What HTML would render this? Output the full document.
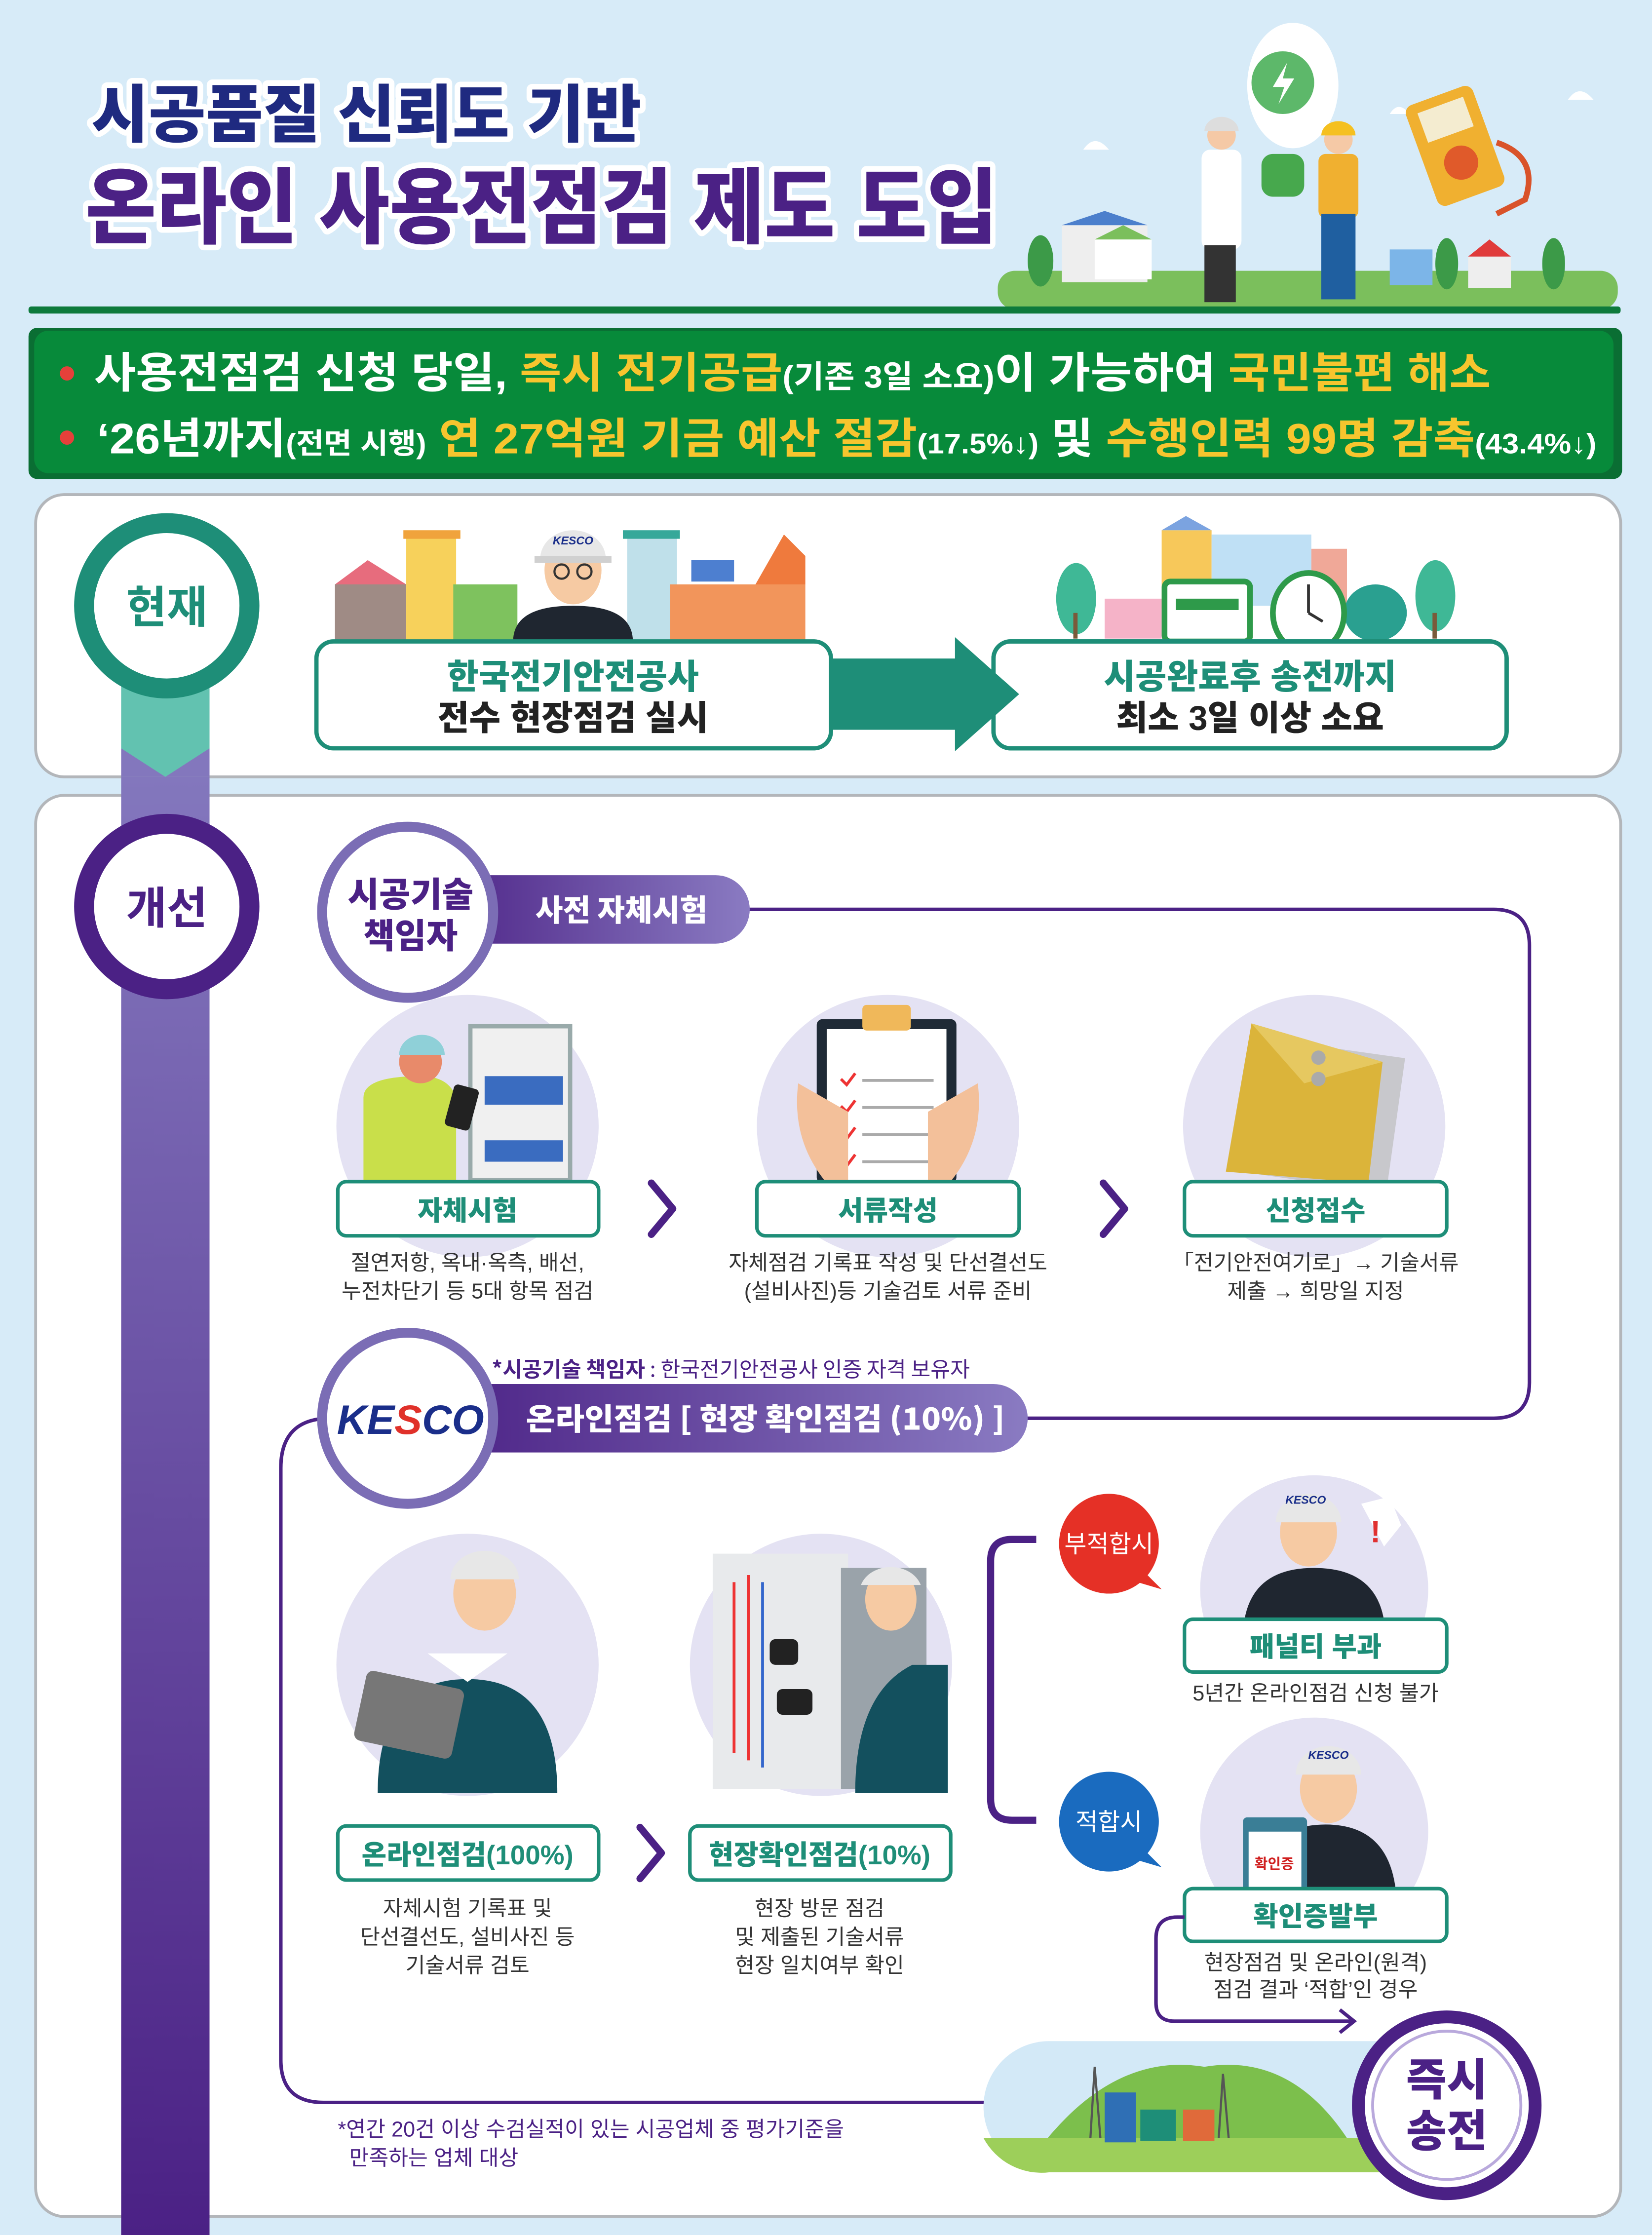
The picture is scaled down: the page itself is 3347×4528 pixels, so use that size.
<!DOCTYPE html>
<html><head><meta charset="utf-8"><style>
html,body{margin:0;padding:0;background:#d7ebf8;}
svg{display:block;}
text{font-family:"Liberation Sans","Noto Sans CJK KR",sans-serif;}
.k{font-family:"Noto Sans CJK KR","Liberation Sans",sans-serif;}
</style></head><body>
<svg width="3347" height="4528" viewBox="0 0 1159 1568" preserveAspectRatio="none" xmlns="http://www.w3.org/2000/svg">
<defs>
<linearGradient id="pill" x1="0" x2="1"><stop offset="0" stop-color="#4b2185"/><stop offset="1" stop-color="#8a7bc2"/></linearGradient>
<linearGradient id="bar" x1="0" x2="0" y1="0" y2="1"><stop offset="0" stop-color="#8377bd"/><stop offset="1" stop-color="#4b2185"/></linearGradient>
<clipPath id="c1"><rect x="800" y="1000" width="250" height="150"/></clipPath>
<clipPath id="c2"><rect x="800" y="1190" width="250" height="145"/></clipPath>
</defs>
<rect width="1159" height="1568" fill="#d7ebf8"/>

<g class="k" font-weight="900" stroke="#fff" stroke-width="8" stroke-linejoin="round" paint-order="stroke">
<text x="64" y="96" font-size="44" fill="#1f2a80" textLength="386" lengthAdjust="spacingAndGlyphs">시공품질 신뢰도 기반</text>
<text x="60" y="166" font-size="58" fill="#4b2185" textLength="640" lengthAdjust="spacingAndGlyphs">온라인 사용전점검 제도 도입</text>
</g>

<ellipse cx="907" cy="60" rx="32" ry="44" fill="#fff"/>
<circle cx="900" cy="58" r="22" fill="#5db86a"/>
<path d="M903 44 L893 61 L901 61 L897 73 L908 55 L900 55 Z" fill="#fff"/>
<path d="M760 105 q8-12 18 0 z M975 80 q6-10 14 0z M1100 70 q8-12 18 0z" fill="#fff"/>
<rect x="700" y="190" width="435" height="27" rx="12" fill="#7bbf5c"/>
<rect x="745" y="158" width="60" height="40" fill="#eee"/><polygon points="745,158 775,148 805,158" fill="#4c7fcc"/>
<rect x="768" y="168" width="40" height="28" fill="#fff"/><polygon points="768,168 788,158 808,168" fill="#7bbf5c"/>
<rect x="975" y="175" width="30" height="25" fill="#7cb5e8"/><rect x="1030" y="180" width="30" height="22" fill="#eee"/><polygon points="1030,180 1045,168 1060,180" fill="#e03b3b"/>
<ellipse cx="730" cy="183" rx="9" ry="18" fill="#3c9a48"/><ellipse cx="1090" cy="185" rx="8" ry="18" fill="#3c9a48"/><ellipse cx="1015" cy="185" rx="8" ry="18" fill="#3c9a48"/>
<rect x="843" y="105" width="28" height="70" rx="6" fill="#fff"/><rect x="845" y="172" width="22" height="40" fill="#333"/><circle cx="857" cy="95" r="10" fill="#f5c9a6"/><path d="M845 92 a12 10 0 0 1 24 0z" fill="#ddd"/>
<rect x="925" y="108" width="28" height="45" rx="5" fill="#f0b030"/><rect x="927" y="150" width="24" height="60" fill="#1f5fa0"/><circle cx="939" cy="98" r="10" fill="#f5c9a6"/><path d="M927 95 a12 10 0 0 1 24 0z" fill="#f5c020"/>
<rect x="885" y="108" width="30" height="30" rx="8" fill="#47a84d"/>
<g transform="rotate(-20 1020 100)"><rect x="995" y="65" width="50" height="75" rx="6" fill="#f0b030"/><rect x="1003" y="72" width="34" height="22" fill="#f4ecd0"/><circle cx="1020" cy="115" r="12" fill="#e05a2a"/></g>
<path d="M1050 100 q30 10 20 40 l-20 10" fill="none" stroke="#d9532a" stroke-width="4"/>

<rect x="20" y="215" width="1117" height="5" rx="2" fill="#0d7a3c"/>
<rect x="20" y="230" width="1118" height="106" rx="6" fill="#0a6e33"/>
<rect x="24" y="232" width="1108" height="100" rx="10" fill="#078a3a"/>
<circle cx="47" cy="262" r="5" fill="#e5403a"/><circle cx="47" cy="307" r="5" fill="#e5403a"/>
<g class="k" font-weight="700" fill="#fff">
<text x="66" y="272" font-size="30" textLength="980" lengthAdjust="spacingAndGlyphs">사용전점검 신청 당일, <tspan fill="#f7c52e">즉시 전기공급</tspan><tspan font-size="22">(기존 3일 소요)</tspan>이 가능하여 <tspan fill="#f7c52e">국민불편 해소</tspan></text>
<text x="68" y="318" font-size="30" textLength="1052" lengthAdjust="spacingAndGlyphs">‘26년까지<tspan font-size="20">(전면 시행)</tspan> <tspan fill="#f7c52e">연 27억원 기금 예산 절감</tspan><tspan font-size="20">(17.5%↓)</tspan> 및 <tspan fill="#f7c52e">수행인력 99명 감축</tspan><tspan font-size="20">(43.4%↓)</tspan></text>
</g>

<rect x="25" y="347" width="1112" height="198" rx="20" fill="#fff" stroke="#b3b6ba" stroke-width="2"/>
<rect x="25" y="558" width="1112" height="997" rx="20" fill="#fff" stroke="#b3b6ba" stroke-width="2"/>

<rect x="85" y="545" width="62" height="1023" fill="url(#bar)"/>
<rect x="85" y="480" width="62" height="65" fill="#8377bd"/>
<path d="M85 480 H147 V525 L116 545 L85 525 Z" fill="#62c2b0"/>

<circle cx="117" cy="425" r="58" fill="#fff" stroke="#1e8e78" stroke-width="14"/>
<text class="k" x="117" y="437" font-size="31" font-weight="700" fill="#1e8e78" text-anchor="middle">현재</text>
<circle cx="117" cy="636" r="58" fill="#fff" stroke="#4b2185" stroke-width="14"/>
<text class="k" x="117" y="648" font-size="31" font-weight="700" fill="#4b2185" text-anchor="middle">개선</text>

<g>
<rect x="235" y="410" width="50" height="40" fill="#9f8b85"/><polygon points="235,410 258,393 285,410" fill="#e76c7d"/>
<rect x="285" y="375" width="35" height="75" fill="#f7d15b"/><rect x="283" y="372" width="40" height="6" fill="#f0a33c"/>
<rect x="318" y="410" width="45" height="40" fill="#7ec25e"/>
<rect x="440" y="375" width="35" height="75" fill="#bfe0ea"/><rect x="437" y="372" width="40" height="6" fill="#36a89a"/>
<rect x="470" y="410" width="95" height="40" fill="#f2955b"/><polygon points="530,410 550,375 565,390 565,410" fill="#ef7a3d"/>
<rect x="485" y="393" width="30" height="15" fill="#4d7fd0"/>
<path d="M360 450 q0-25 42-25 q42 0 42 25z" fill="#1f2630"/>
<ellipse cx="402" cy="400" rx="20" ry="24" fill="#f6caa3"/>
<path d="M379 392 a23 20 0 0 1 46 0z" fill="#e7e7e7"/><rect x="375" y="390" width="54" height="5" fill="#d0d0d0"/>
<text x="402" y="382" font-size="8" font-weight="700" font-style="italic" fill="#1a2e8a" text-anchor="middle">KESCO</text>
<circle cx="394" cy="401" r="5" fill="none" stroke="#333" stroke-width="1.5"/><circle cx="410" cy="401" r="5" fill="none" stroke="#333" stroke-width="1.5"/>
</g>
<g>
<rect x="815" y="372" width="35" height="55" fill="#f7c85a"/><polygon points="815,372 832,362 850,372" fill="#7ba3e0"/>
<rect x="850" y="375" width="70" height="50" fill="#bfe0f5"/>
<rect x="920" y="385" width="25" height="40" fill="#f0a898"/>
<rect x="775" y="420" width="40" height="28" fill="#f5b3c8"/>
<ellipse cx="755" cy="420" rx="14" ry="25" fill="#3fb896"/><rect x="753" y="430" width="3" height="18" fill="#7a5a3a"/>
<ellipse cx="1007" cy="418" rx="14" ry="25" fill="#3fb896"/><rect x="1005" y="430" width="3" height="18" fill="#7a5a3a"/>
<ellipse cx="965" cy="430" rx="22" ry="20" fill="#2aa090"/>
<rect x="817" y="408" width="60" height="42" rx="4" fill="#fff" stroke="#2e9a4a" stroke-width="4"/>
<rect x="825" y="420" width="44" height="8" fill="#2e9a4a"/>
<ellipse cx="918" cy="430" rx="25" ry="28" fill="#fff" stroke="#2e9a4a" stroke-width="4"/>
<path d="M918 430 V410 M918 430 L928 436" stroke="#333" stroke-width="2"/>
</g>

<rect x="222" y="450" width="361" height="75" rx="12" fill="#fff" stroke="#1e8e78" stroke-width="3"/>
<rect x="697" y="450" width="360" height="75" rx="12" fill="#fff" stroke="#1e8e78" stroke-width="3"/>
<path d="M584 462 H670 V447 L715 487 L670 527 V512 H584 Z" fill="#1e8e78"/>
<rect x="697" y="450" width="360" height="75" rx="12" fill="none" stroke="#1e8e78" stroke-width="3"/>
<g class="k" font-weight="900" font-size="24" text-anchor="middle">
<text x="402" y="483" fill="#1e8e78">한국전기안전공사</text>
<text x="402" y="512" fill="#222">전수 현장점검 실시</text>
<text x="877" y="483" fill="#1e8e78">시공완료후 송전까지</text>
<text x="877" y="512" fill="#222">최소 3일 이상 소요</text>
</g>

<path d="M520 638 H1048 q25 0 25 25 V970 q0 25 -25 25 H700" fill="none" stroke="#4b2185" stroke-width="2.5"/>
<path d="M232 995 q-35 0 -35 35 V1445 q0 30 30 30 H700" fill="none" stroke="#4b2185" stroke-width="2.5"/>

<rect x="300" y="614" width="226" height="48" rx="24" fill="url(#pill)"/>
<text class="k" x="436" y="646" font-size="21" font-weight="900" fill="#fff" text-anchor="middle">사전 자체시험</text>
<rect x="300" y="971" width="421" height="48" rx="24" fill="url(#pill)"/>
<text class="k" x="537" y="1003" font-size="21" font-weight="900" fill="#fff" text-anchor="middle" textLength="336" lengthAdjust="spacingAndGlyphs">온라인점검 [ 현장 확인점검 (10%) ]</text>

<circle cx="286" cy="640" r="60" fill="#fff" stroke="#7b6db5" stroke-width="7"/>
<g class="k" font-weight="900" font-size="24" fill="#4b2185" text-anchor="middle">
<text x="288" y="636">시공기술</text><text x="288" y="665">책임자</text></g>

<circle cx="286" cy="995" r="60" fill="#fff" stroke="#7b6db5" stroke-width="7"/>
<text x="288" y="1006" font-size="29" font-weight="700" font-style="italic" fill="#1a2e8a" text-anchor="middle">KE<tspan fill="#e0312a">S</tspan>CO</text>
<text class="k" x="345" y="966" font-size="15" fill="#4b2185"><tspan font-weight="700">*시공기술 책임자</tspan> : 한국전기안전공사 인증 자격 보유자</text>

<circle cx="328" cy="790" r="92" fill="#e4e2f3"/>
<circle cx="623" cy="790" r="92" fill="#e4e2f3"/>
<circle cx="922" cy="790" r="92" fill="#e4e2f3"/>
<rect x="330" y="720" width="70" height="108" fill="#f0f0f0" stroke="#9aa" stroke-width="3"/>
<rect x="340" y="755" width="55" height="20" fill="#3a6cc0"/><rect x="340" y="800" width="55" height="15" fill="#3a6cc0"/>
<path d="M255 828 V770 q0-15 40-15 q20 0 25 15 V828z" fill="#c9df4a"/>
<circle cx="295" cy="745" r="15" fill="#e88a6a"/><path d="M280 740 a16 14 0 0 1 32 0z" fill="#8fd0d8"/>
<rect x="315" y="762" width="18" height="30" rx="3" fill="#222" transform="rotate(15 324 777)"/>
<rect x="573" y="715" width="98" height="115" rx="4" fill="#1f2a36"/><rect x="580" y="722" width="84" height="108" fill="#fff"/>
<rect x="605" y="705" width="34" height="18" rx="3" fill="#f0b85a"/>
<g stroke="#aaa" stroke-width="2"><path d="M605 758 H655 M605 777 H655 M605 796 H655 M605 815 H655"/></g>
<g stroke="#e33" stroke-width="2" fill="none"><path d="M590 757 l4 4 l6 -8 M590 776 l4 4 l6 -8 M590 795 l4 4 l6 -8 M590 814 l4 4 l6 -8"/></g>
<path d="M560 760 q-5 40 20 70 h15 v-50z M686 760 q5 40 -20 70 h-15 v-50z" fill="#f3c09a"/>
<rect x="880" y="735" width="100" height="95" fill="#c8c8cc" transform="rotate(8 930 780)"/>
<polygon points="878,718 970,745 960,830 860,822" fill="#dbb43a"/>
<polygon points="878,718 970,745 915,760" fill="#e6c860"/>
<circle cx="925" cy="742" r="5" fill="#aaa"/><circle cx="925" cy="757" r="5" fill="#aaa"/>

<!-- row2 circles -->
<circle cx="328" cy="1168" r="92" fill="#e4e2f3"/>
<circle cx="576" cy="1168" r="92" fill="#e4e2f3"/>
<path d="M265 1258 q0-80 63-80 q63 0 63 80z" fill="#13505e"/>
<path d="M300 1160 l28 20 l28 -20" fill="#fff"/>
<ellipse cx="340" cy="1118" rx="22" ry="26" fill="#f6caa3"/><path d="M316 1108 a24 20 0 0 1 48 0z" fill="#e7e7e7"/>
<rect x="252" y="1178" width="70" height="50" rx="5" fill="#777" transform="rotate(12 287 1203)"/>
<rect x="500" y="1090" width="95" height="165" fill="#e8eaec"/><rect x="590" y="1100" width="60" height="155" fill="#9aa3aa"/>
<path d="M515 1110 V1230 M525 1105 V1235" stroke="#e33" stroke-width="2"/><path d="M535 1110 V1240" stroke="#36c" stroke-width="2"/>
<path d="M600 1258 q0-70 40-90 l25 0 v90z" fill="#13505e"/>
<ellipse cx="625" cy="1122" rx="18" ry="22" fill="#f6caa3"/><path d="M604 1112 a22 18 0 0 1 42 0z" fill="#e7e7e7"/>
<rect x="540" y="1150" width="20" height="18" rx="4" fill="#222"/><rect x="545" y="1185" width="25" height="18" rx="4" fill="#222"/>

<!-- result circles (clipped, drawn before boxes) -->
<g clip-path="url(#c1)">
<circle cx="922" cy="1115" r="80" fill="#e4e2f3"/>
<path d="M872 1150 q0-50 50-50 q50 0 50 50z" fill="#1f2630"/><ellipse cx="918" cy="1075" rx="20" ry="24" fill="#f6caa3"/><path d="M895 1068 a23 20 0 0 1 46 0z" fill="#e7e7e7"/>
</g>
<text x="916" y="1055" font-size="8" font-weight="700" font-style="italic" fill="#1a2e8a" text-anchor="middle">KESCO</text>
<path d="M955 1055 l20 -5 l8 20 l-12 15 z" fill="#fff"/><text x="965" y="1082" font-size="22" font-weight="700" fill="#e03030" text-anchor="middle">!</text>
<g clip-path="url(#c2)">
<circle cx="922" cy="1285" r="80" fill="#e4e2f3"/>
<path d="M880 1340 q0-60 50-60 q50 0 50 60z" fill="#1f2630"/><ellipse cx="932" cy="1255" rx="20" ry="24" fill="#f6caa3"/><path d="M909 1245 a23 20 0 0 1 46 0z" fill="#e7e7e7"/>
<rect x="872" y="1275" width="45" height="60" rx="3" fill="#3a7e96"/><rect x="876" y="1285" width="37" height="45" fill="#fff"/>
</g>
<text x="932" y="1234" font-size="8" font-weight="700" font-style="italic" fill="#1a2e8a" text-anchor="middle">KESCO</text>
<text class="k" x="894" y="1311" font-size="10" font-weight="700" fill="#d02020" text-anchor="middle">확인증</text>

<!-- label boxes -->
<g fill="#fff" stroke="#1e8e78" stroke-width="2.5">
<rect x="237" y="829" width="183" height="38" rx="6"/><rect x="531" y="829" width="184" height="38" rx="6"/><rect x="831" y="829" width="184" height="38" rx="6"/>
<rect x="237" y="1281" width="183" height="38" rx="6"/><rect x="484" y="1281" width="183" height="38" rx="6"/>
<rect x="831" y="1136" width="184" height="37" rx="6"/><rect x="831" y="1325" width="184" height="37" rx="6"/>
</g>
<g class="k" font-weight="900" font-size="19" fill="#1e8e78" text-anchor="middle">
<text x="328" y="856">자체시험</text><text x="623" y="856">서류작성</text><text x="923" y="856">신청접수</text>
<text x="328" y="1308">온라인점검(100%)</text><text x="575" y="1308">현장확인점검(10%)</text>
<text x="923" y="1162">패널티 부과</text><text x="923" y="1351">확인증발부</text>
</g>
<g fill="none" stroke="#4b2185" stroke-width="5" stroke-linecap="round" stroke-linejoin="round">
<path d="M457 830 L472 848 L457 866"/><path d="M774 830 L789 848 L774 866"/><path d="M449 1282 L464 1300 L449 1318"/>
</g>
<g class="k" font-size="15" fill="#333" text-anchor="middle">
<text x="328" y="891">절연저항, 옥내·옥측, 배선,</text><text x="328" y="911">누전차단기 등 5대 항목 점검</text>
<text x="623" y="891">자체점검 기록표 작성 및 단선결선도</text><text x="623" y="911">(설비사진)등 기술검토 서류 준비</text>
<text x="923" y="891">「전기안전여기로」→ 기술서류</text><text x="923" y="911">제출 → 희망일 지정</text>
<text x="328" y="1344">자체시험 기록표 및</text><text x="328" y="1364">단선결선도, 설비사진 등</text><text x="328" y="1384">기술서류 검토</text>
<text x="575" y="1344">현장 방문 점검</text><text x="575" y="1364">및 제출된 기술서류</text><text x="575" y="1384">현장 일치여부 확인</text>
<text x="923" y="1193">5년간 온라인점검 신청 불가</text>
<text x="923" y="1382">현장점검 및 온라인(원격)</text><text x="923" y="1401">점검 결과 ‘적합’인 경우</text>
</g>

<path d="M727 1080 H710 q-15 0 -15 15 V1262 q0 15 15 15 H727" fill="none" stroke="#4b2185" stroke-width="5"/>
<circle cx="778" cy="1083" r="35" fill="#e53026"/><path d="M800 1100 L815 1115 L798 1110z" fill="#e53026"/>
<circle cx="778" cy="1278" r="35" fill="#1a6bbf"/><path d="M800 1295 L815 1310 L798 1305z" fill="#1a6bbf"/>
<g class="k" font-size="17" fill="#fff" text-anchor="middle"><text x="778" y="1089">부적합시</text><text x="778" y="1284">적합시</text></g>

<path d="M831 1345 h-5 q-15 0 -15 15 V1405 q0 13 13 13 H948" fill="none" stroke="#4b2185" stroke-width="2.5"/>
<path d="M940 1410 L950 1418 L940 1426" fill="none" stroke="#4b2185" stroke-width="2.5"/>

<rect x="690" y="1432" width="320" height="92" rx="46" fill="#d3e9f7"/>
<path d="M690 1500 h320 v24 h-274 a46 46 0 0 1 -46 -24z" fill="#9dcf5a"/>
<path d="M735 1500 q50 -60 110 -50 q60 -10 100 50z" fill="#7cbf4c"/>
<rect x="775" y="1468" width="22" height="35" fill="#2f6fb5"/><rect x="800" y="1480" width="25" height="22" fill="#1e8e78"/><rect x="830" y="1480" width="22" height="22" fill="#e06a3a"/>
<path d="M765 1500 L768 1450 L772 1500 M855 1500 L858 1455 L862 1500" stroke="#555" stroke-width="1.5" fill="none"/>

<circle cx="1015" cy="1477" r="62" fill="#fff" stroke="#4b2185" stroke-width="9"/>
<circle cx="1015" cy="1477" r="52" fill="none" stroke="#b9a9dc" stroke-width="2"/>
<g class="k" font-size="31" font-weight="900" fill="#4b2185" text-anchor="middle"><text x="1015" y="1470">즉시</text><text x="1015" y="1506">송전</text></g>

<g class="k" font-size="15" fill="#4b2185"><text x="237" y="1499">*연간 20건 이상 수검실적이 있는 시공업체 중 평가기준을</text><text x="245" y="1519">만족하는 업체 대상</text></g>
</svg>
</body></html>
